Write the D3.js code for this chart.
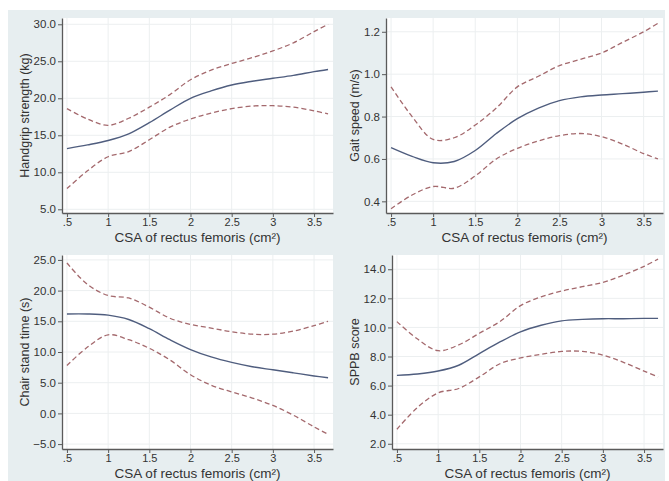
<!DOCTYPE html>
<html>
<head>
<meta charset="utf-8">
<script src="https://cdn.jsdelivr.net/npm/d3@7"></script>
<style>
  html, body { margin: 0; padding: 0; background: #ffffff; }
  svg { display: block; }
  text { font-family: "Liberation Sans", Arial, sans-serif; }
</style>
</head>
<body>
<svg id="chart" width="669" height="481"></svg>
<script>
// ---- data ----
const csa = [0.5, 0.75, 1.0, 1.25, 1.5, 1.75, 2.0, 2.25, 2.5, 2.75, 3.0, 3.25, 3.5, 3.67];
const xTickValues = [0.5, 1, 1.5, 2, 2.5, 3, 3.5];
const xTickLabels = [".5", "1", "1.5", "2", "2.5", "3", "3.5"];
const xTitle = "CSA of rectus femoris (cm²)";

const handgripFit   = [13.2, 13.7, 14.3, 15.2, 16.7, 18.4, 20.0, 21.0, 21.8, 22.3, 22.7, 23.1, 23.6, 23.9];
const handgripLower = [7.8, 10.2, 12.1, 12.8, 14.4, 16.1, 17.2, 18.0, 18.6, 18.95, 19.0, 18.8, 18.3, 17.9];
const handgripUpper = [18.6, 17.2, 16.35, 17.3, 18.8, 20.5, 22.5, 23.8, 24.7, 25.5, 26.4, 27.5, 29.0, 30.0];
const handgripTicks = [5, 10, 15, 20, 25, 30];

const gaitFit   = [0.653, 0.612, 0.582, 0.588, 0.64, 0.72, 0.79, 0.84, 0.875, 0.893, 0.902, 0.908, 0.915, 0.92];
const gaitLower = [0.365, 0.43, 0.47, 0.462, 0.52, 0.60, 0.65, 0.685, 0.71, 0.72, 0.705, 0.67, 0.625, 0.60];
const gaitUpper = [0.94, 0.80, 0.692, 0.70, 0.76, 0.84, 0.94, 0.99, 1.04, 1.07, 1.10, 1.15, 1.20, 1.24];
const gaitTicks = [0.4, 0.6, 0.8, 1.0, 1.2];

const chairFit   = [16.2, 16.2, 16.0, 15.3, 13.8, 12.0, 10.4, 9.2, 8.3, 7.6, 7.1, 6.6, 6.1, 5.8];
const chairLower = [7.8, 10.8, 12.8, 12.0, 10.6, 8.7, 6.3, 4.6, 3.5, 2.5, 1.3, -0.3, -2.2, -3.4];
const chairUpper = [24.5, 21.0, 19.2, 18.8, 17.3, 15.5, 14.5, 13.9, 13.3, 12.9, 12.9, 13.4, 14.3, 15.0];
const chairTicks = [-5, 0, 5, 10, 15, 20, 25];

const sppbFit   = [6.7, 6.8, 7.0, 7.4, 8.2, 9.0, 9.7, 10.15, 10.45, 10.55, 10.6, 10.6, 10.62, 10.62];
const sppbLower = [3.0, 4.5, 5.5, 5.8, 6.6, 7.5, 7.9, 8.15, 8.35, 8.35, 8.1, 7.6, 7.0, 6.6];
const sppbUpper = [10.4, 9.2, 8.4, 8.8, 9.6, 10.4, 11.5, 12.1, 12.5, 12.8, 13.1, 13.6, 14.2, 14.7];
const sppbTicks = [2, 4, 6, 8, 10, 12, 14];

// ---- layout ----
const panels = [
  { title: "Handgrip strength (kg)", fit: handgripFit, lower: handgripLower, upper: handgripUpper,
    ticks: handgripTicks, yDomain: [4.5, 30.85],
    box: { l: 62, t: 18, r: 333, b: 213 }, titleX: 29 },
  { title: "Gait speed (m/s)", fit: gaitFit, lower: gaitLower, upper: gaitUpper,
    ticks: gaitTicks, yDomain: [0.345, 1.265],
    box: { l: 386, t: 18, r: 663, b: 213 }, titleX: 359 },
  { title: "Chair stand time (s)", fit: chairFit, lower: chairLower, upper: chairUpper,
    ticks: chairTicks, yDomain: [-5.8, 25.8],
    box: { l: 62, t: 255, r: 333, b: 449 }, titleX: 29 },
  { title: "SPPB score", fit: sppbFit, lower: sppbLower, upper: sppbUpper,
    ticks: sppbTicks, yDomain: [1.64, 14.98],
    box: { l: 392, t: 255, r: 663, b: 449 }, titleX: 359 }
];

const svg = d3.select("#chart");
svg.append("rect").attr("x", 8).attr("y", 10).attr("width", 657).attr("height", 471)
  .attr("fill", "#e7eef0");

const fitColor = "#4f5d7e";
const ciColor = "#a4696d";
const axisColor = "#5a5a5a";
const fmt = d3.format(".1f");

panels.forEach(p => {
  const b = p.box;
  const x = d3.scaleLinear().domain([0.44, 3.73]).range([b.l, b.r]);
  const y = d3.scaleLinear().domain(p.yDomain).range([b.b, b.t]);
  const g = svg.append("g");

  g.append("rect").attr("x", b.l).attr("y", b.t).attr("width", b.r - b.l).attr("height", b.b - b.t)
    .attr("fill", "#ffffff");

  // grid
  g.append("g").selectAll("line").data(xTickValues).join("line")
    .attr("x1", d => x(d)).attr("x2", d => x(d)).attr("y1", b.t).attr("y2", b.b)
    .attr("stroke", "#eceff0").attr("stroke-width", 1);
  g.append("g").selectAll("line").data(p.ticks).join("line")
    .attr("x1", b.l).attr("x2", b.r).attr("y1", d => y(d)).attr("y2", d => y(d))
    .attr("stroke", "#eceff0").attr("stroke-width", 1);

  // axes
  const xAxis = d3.axisBottom(x).tickValues(xTickValues)
    .tickFormat((d, i) => xTickLabels[i]).tickSize(4).tickSizeOuter(0).tickPadding(1);
  const ga = g.append("g").attr("transform", `translate(0,${b.b})`).call(xAxis);
  ga.select(".domain").attr("stroke", axisColor).attr("stroke-width", 1.3);
  ga.selectAll(".tick line").attr("stroke", axisColor);
  ga.selectAll(".tick text").attr("fill", "#333").attr("font-size", 11)
    .attr("font-family", "'Liberation Sans', Arial, sans-serif");

  const yAxis = d3.axisLeft(y).tickValues(p.ticks).tickFormat(fmt)
    .tickSize(4).tickSizeOuter(0).tickPadding(2);
  const gy = g.append("g").attr("transform", `translate(${b.l},0)`).call(yAxis);
  gy.select(".domain").attr("stroke", axisColor).attr("stroke-width", 1.3);
  gy.selectAll(".tick line").attr("stroke", axisColor);
  gy.selectAll(".tick text").attr("fill", "#333").attr("font-size", 11.5)
    .attr("font-family", "'Liberation Sans', Arial, sans-serif");

  // lines
  const line = arr => d3.line().x((d, i) => x(csa[i])).y(d => y(d)).curve(d3.curveCatmullRom.alpha(0.5))(arr);
  g.append("path").attr("d", line(p.upper)).attr("fill", "none").attr("stroke", ciColor)
    .attr("stroke-width", 1.3).attr("stroke-dasharray", "5,3");
  g.append("path").attr("d", line(p.lower)).attr("fill", "none").attr("stroke", ciColor)
    .attr("stroke-width", 1.3).attr("stroke-dasharray", "5,3");
  g.append("path").attr("d", line(p.fit)).attr("fill", "none").attr("stroke", fitColor)
    .attr("stroke-width", 1.4);

  // titles
  g.append("text").attr("transform", `translate(${p.titleX},${(b.t + b.b) / 2}) rotate(-90)`)
    .attr("text-anchor", "middle").attr("font-size", 12.5).attr("fill", "#333").text(p.title);
  g.append("text").attr("x", (b.l + b.r) / 2).attr("y", b.b + 29)
    .attr("text-anchor", "middle").attr("font-size", 13.5).attr("fill", "#333").text(xTitle);
});
</script>
</body>
</html>
